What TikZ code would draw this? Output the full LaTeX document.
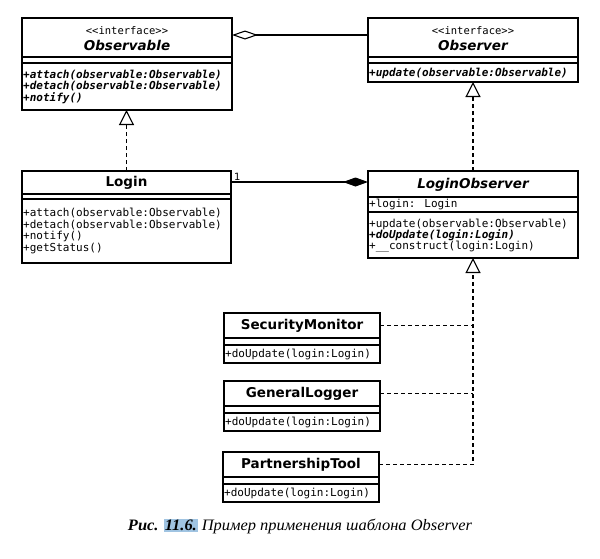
\documentclass[tikz,border=0pt]{standalone}
\usepackage{fontspec}
\usepackage{graphicx}
\setmainfont{Liberation Serif}
\newfontfamily\umlsans{DejaVu Sans}
\newfontfamily\umlmono{DejaVu Sans Mono}
\usetikzlibrary{arrows.meta}
\definecolor{hl}{RGB}{160,196,226}
\tikzset{
  box/.style={draw, line width=1.1pt, inner sep=0pt, outer sep=0pt, anchor=north west},
  sepline/.style={line width=1.1pt},
  cname/.style={font=\umlsans\bfseries\fontsize{13.5}{14}\selectfont, inner sep=0pt},
  aname/.style={font=\umlsans\bfseries\itshape\fontsize{13.5}{14}\selectfont, inner sep=0pt},
  stereo/.style={font=\umlmono\fontsize{10.5}{11}\selectfont, inner sep=0pt},
  members/.style={font=\umlmono\fontsize{11}{11.5}\selectfont, inner sep=0pt, anchor=west, align=left},
  absmembers/.style={font=\umlmono\bfseries\itshape\fontsize{11}{11.5}\selectfont, inner sep=0pt, anchor=west, align=left},
  realize/.style={line width=1.1pt, dash pattern=on 4pt off 3pt, -{Triangle[open, length=15pt, width=15pt]}},
  dashline/.style={line width=1.1pt, dash pattern=on 4pt off 3pt},
  aggr/.style={line width=1.1pt, -{Diamond[open, length=26pt, width=9pt]}},
  compo/.style={line width=1.1pt, -{Diamond[length=25pt, width=9pt]}},
}
\newcommand{\stereotxt}{\mbox{<}\mbox{<}interface\mbox{>}\mbox{>}}
\begin{document}
\begin{tikzpicture}[x=1pt, y=-1pt]
\useasboundingbox (0,0) rectangle (600,558);

% Observable
\node[box, minimum width=210pt, minimum height=92pt] (observable) at (22,18) {};
\draw[sepline] ([yshift=-39pt]observable.north west) -- ([yshift=-39pt]observable.north east);
\draw[sepline] ([yshift=-45pt]observable.north west) -- ([yshift=-45pt]observable.north east);
\node[stereo] (observablest) at (127,31) {\stereotxt};
\node[aname] (observablename) at (127,45.5) {Observable};
\node[absmembers] (observableops) at (23,86.5) {+attach(observable:Observable)\\+detach(observable:Observable)\\+notify()};

% Observer
\node[box, minimum width=210pt, minimum height=64pt] (observer) at (368,18) {};
\draw[sepline] ([yshift=-39pt]observer.north west) -- ([yshift=-39pt]observer.north east);
\draw[sepline] ([yshift=-45pt]observer.north west) -- ([yshift=-45pt]observer.north east);
\node[stereo] (observerst) at (473,31) {\stereotxt};
\node[aname] (observername) at (473,45.5) {Observer};
\node[absmembers] (observerops) at (369,73) {+update(observable:Observable)};

% Login
\node[box, minimum width=209pt, minimum height=92pt] (login) at (22,171) {};
\draw[sepline] ([yshift=-23pt]login.north west) -- ([yshift=-23pt]login.north east);
\draw[sepline] ([yshift=-28pt]login.north west) -- ([yshift=-28pt]login.north east);
\node[cname] (loginname) at (126.5,183) {Login};
\node[members] (loginops) at (23,231) {+attach(observable:Observable)\\+detach(observable:Observable)\\+notify()\\+getStatus()};

% LoginObserver
\node[box, minimum width=210pt, minimum height=87pt] (loginobs) at (368,171) {};
\draw[sepline] ([yshift=-26pt]loginobs.north west) -- ([yshift=-26pt]loginobs.north east);
\draw[sepline] ([yshift=-41pt]loginobs.north west) -- ([yshift=-41pt]loginobs.north east);
\node[aname] (loginobsname) at (473,184.5) {LoginObserver};
\node[members] (loginobsattr) at (369,204.5) {+login: Login};
\node[members] (loginobsop1) at (369,224) {+update(observable:Observable)};
\node[absmembers] (loginobsop2) at (369,235.5) {+doUpdate(login:Login)};
\node[members] (loginobsop3) at (369,247) {+\_\_construct(login:Login)};

% SecurityMonitor
\node[box, minimum width=156pt, minimum height=50pt] (secmon) at (224,313) {};
\draw[sepline] ([yshift=-25pt]secmon.north west) -- ([yshift=-25pt]secmon.north east);
\draw[sepline] ([yshift=-32pt]secmon.north west) -- ([yshift=-32pt]secmon.north east);
\node[cname] (secmonname) at (302,325.5) {SecurityMonitor};
\node[members] (secmonops) at (225,354.5) {+doUpdate(login:Login)};

% GeneralLogger
\node[box, minimum width=156pt, minimum height=50pt] (genlog) at (224,381) {};
\draw[sepline] ([yshift=-25pt]genlog.north west) -- ([yshift=-25pt]genlog.north east);
\draw[sepline] ([yshift=-32pt]genlog.north west) -- ([yshift=-32pt]genlog.north east);
\node[cname] (genlogname) at (302,393.5) {GeneralLogger};
\node[members] (genlogops) at (225,422.5) {+doUpdate(login:Login)};

% PartnershipTool
\node[box, minimum width=156pt, minimum height=50pt] (parttool) at (223,452) {};
\draw[sepline] ([yshift=-25pt]parttool.north west) -- ([yshift=-25pt]parttool.north east);
\draw[sepline] ([yshift=-32pt]parttool.north west) -- ([yshift=-32pt]parttool.north east);
\node[cname] (parttoolname) at (301,464.5) {PartnershipTool};
\node[members] (parttoolops) at (224,493.5) {+doUpdate(login:Login)};

% Connectors
\coordinate (aggy) at (300,35);
\coordinate (compy) at (300,182);
\draw[aggr] (observer.west |- aggy) -- (observable.east |- aggy);
\draw[realize] (login.north) -- (observable.south -| login.north);
\draw[realize] (loginobs.north) -- (observer.south);
\draw[compo] (login.east |- compy) -- (loginobs.west |- compy);
\node[font=\umlsans\fontsize{10}{10}\selectfont, inner sep=0pt, anchor=south west] (mult) at (234,181) {1};
\draw[dashline] (secmon.east |- secmonname) -- (loginobs.south |- secmonname);
\draw[dashline] (genlog.east |- genlogname) -- (loginobs.south |- genlogname);
\draw[realize] (parttool.east |- parttoolname) -| (loginobs.south);

% Caption
\node[inner sep=0pt, anchor=base] (caption) at (300,530.5) {\resizebox{344pt}{11.4pt}{\fontsize{16}{18}\selectfont\textbf{\textit{Рис.}} {\setlength{\fboxsep}{0.8pt}\colorbox{hl}{\textbf{\textit{11.6.}}}} \textit{Пример применения шаблона Observer}}};
\end{tikzpicture}
\end{document}
